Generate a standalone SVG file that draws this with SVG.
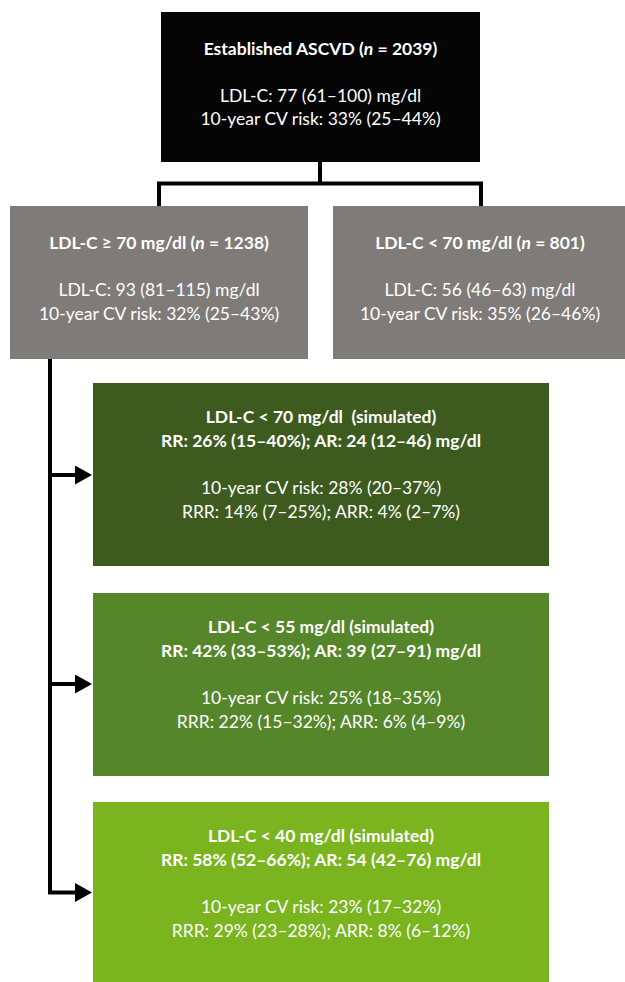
<svg xmlns="http://www.w3.org/2000/svg" width="625" height="982" viewBox="0 0 625 982">
<style>
text{font-family:Lato,"Liberation Sans",sans-serif;font-size:17.5px;fill:#ffffff;text-anchor:middle}
.b{font-weight:bold}
.i{font-style:italic}
.conn{fill:none;stroke:#000;stroke-width:4;stroke-linejoin:miter}
</style>
<defs>
<marker id="ah" markerUnits="userSpaceOnUse" markerWidth="17" markerHeight="19" refX="3" refY="9.5" orient="auto" viewBox="0 0 17 19">
<path d="M0,0 L17,9.5 L0,19 z" fill="#000"/>
</marker>
</defs>
<rect width="625" height="982" fill="#fff"/>
<g id="connectors">
<path class="conn" d="M320,162 V183.5 M159,206 V183.5 H481 V206"/>
<path class="conn" d="M50,359 V892.5 H78" marker-end="url(#ah)"/>
<path class="conn" d="M50,475 H78" marker-end="url(#ah)"/>
<path class="conn" d="M50,684 H78" marker-end="url(#ah)"/>
</g>
<g id="root">
<rect x="161" y="12" width="319" height="150" fill="#050505"/>
<text class="b" x="320.5" y="55">Established ASCVD (<tspan class="i">n</tspan> = 2039)</text>
<text x="320.5" y="102">LDL-C: 77 (61–100) mg/dl</text>
<text x="320.5" y="125">10-year CV risk: 33% (25–44%)</text>
</g>
<g id="high">
<rect x="10" y="206" width="298" height="153" fill="#7f7b79"/>
<text class="b" x="159" y="249">LDL-C ≥ 70 mg/dl (<tspan class="i">n</tspan> = 1238)</text>
<text x="159" y="296">LDL-C: 93 (81–115) mg/dl</text>
<text x="159" y="320">10-year CV risk: 32% (25–43%)</text>
</g>
<g id="low">
<rect x="333" y="206" width="292" height="153" fill="#7f7b79"/>
<text class="b" x="480" y="249">LDL-C &lt; 70 mg/dl (<tspan class="i">n</tspan> = 801)</text>
<text x="480" y="296">LDL-C: 56 (46–63) mg/dl</text>
<text x="480" y="320">10-year CV risk: 35% (26–46%)</text>
</g>
<g id="sim70">
<rect x="93" y="383" width="456" height="183" fill="#3d5a1f"/>
<text class="b" x="321" y="423">LDL-C &lt; 70 mg/dl &#160;(simulated)</text>
<text class="b" x="321" y="446.5">RR: 26% (15–40%); AR: 24 (12–46) mg/dl</text>
<text x="321" y="494">10-year CV risk: 28% (20–37%)</text>
<text x="321" y="517.5">RRR: 14% (7–25%); ARR: 4% (2–7%)</text>
</g>
<g id="sim55">
<rect x="93" y="593" width="456" height="183" fill="#56862a"/>
<text class="b" x="321" y="633">LDL-C &lt; 55 mg/dl (simulated)</text>
<text class="b" x="321" y="656.5">RR: 42% (33–53%); AR: 39 (27–91) mg/dl</text>
<text x="321" y="704">10-year CV risk: 25% (18–35%)</text>
<text x="321" y="727.5">RRR: 22% (15–32%); ARR: 6% (4–9%)</text>
</g>
<g id="sim40">
<rect x="93" y="802" width="456" height="180" fill="#7ab41f"/>
<text class="b" x="321" y="842">LDL-C &lt; 40 mg/dl (simulated)</text>
<text class="b" x="321" y="865.5">RR: 58% (52–66%); AR: 54 (42–76) mg/dl</text>
<text x="321" y="913">10-year CV risk: 23% (17–32%)</text>
<text x="321" y="936.5">RRR: 29% (23–28%); ARR: 8% (6–12%)</text>
</g>
</svg>
